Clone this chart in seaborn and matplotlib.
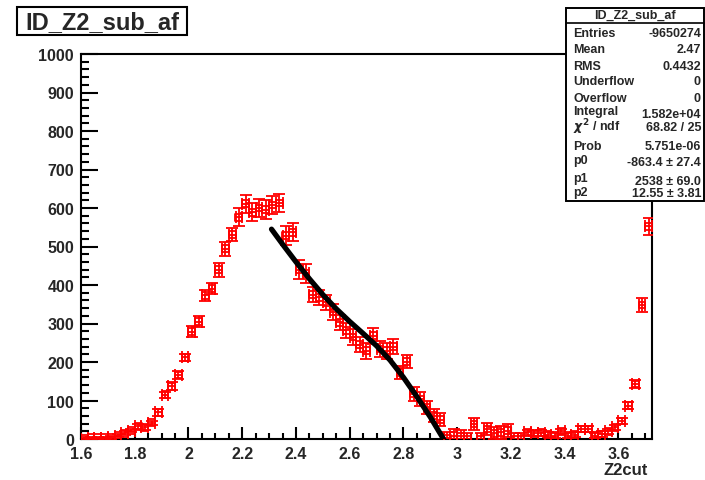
import numpy as np
import pandas as pd
import matplotlib
matplotlib.use("Agg")
import matplotlib.pyplot as plt
from matplotlib.ticker import MultipleLocator, FuncFormatter
from matplotlib.patches import Rectangle
import seaborn as sns

# ---------------- data ----------------
bin_width = 0.025
z2cut = np.round(1.6 + bin_width * (np.arange(85) + 0.5), 4)   # histogram bin centres

counts = [1, 3, 3, 3, 4, 9, 15, 22, 33, 30,
          42, 69, 115, 137, 166, 212, 279, 305, 373, 390,
          440, 494, 531, 576, 611, 589, 600, 596, 608, 613,
          528, 537, 440, 430, 375, 368, 355, 330, 303, 282,
          265, 245, 229, 268, 234, 229, 240, 172, 201, 117,
          104, 82, 61, 50, 2, 9, 8, 0, 39, 0,
          26, 15, 17, 22, 0, 0, 17, 15, 16, 11,
          9, 20, 9, 11, 26, 26, 9, 13, 20, 30,
          47, 87, 143, 348, 552]

errors = [3, 3, 3, 3, 3, 5, 5, 5, 6, 6,
          6, 8, 8, 10, 10, 10, 14, 14, 14, 14,
          18, 18, 18, 24, 24, 24, 24, 24, 24, 24,
          24, 24, 24, 24, 20, 20, 20, 20, 20, 20,
          20, 20, 20, 20, 20, 20, 20, 17, 17, 17,
          17, 17, 17, 17, 16, 16, 16, 16, 16, 16,
          16, 16, 16, 16, 16, 16, 7, 7, 7, 7,
          7, 7, 7, 7, 7, 7, 7, 7, 7, 7,
          7, 8, 10, 18, 22]

fit_x = [2.309, 2.35, 2.40, 2.45, 2.50, 2.55, 2.60, 2.65, 2.70, 2.75,
         2.80, 2.85, 2.90, 2.949, 2.96]
fit_y = [545, 506, 460, 416, 375, 338, 305, 274, 242, 205,
         160, 110, 57, 0, -13]

stats_labels = ["Entries", "Mean", "RMS", "Underflow", "Overflow", "Integral",
                r"$\chi^{2}$ / ndf", "Prob", "p0", "p1", "p2"]
stats_values = ["-9650274", "2.47", "0.4432", "0", "0", "1.582e+04",
                "68.82 / 25", "5.751e-06", "-863.4 ± 27.4", "2538 ± 69.0",
                "12.55 ± 3.81"]

hist = pd.DataFrame({"z2cut": z2cut, "counts": counts, "err": errors})
fit = pd.DataFrame({"x": fit_x, "y": fit_y})

# ---------------- figure ----------------
sns.set_theme(style="white")
plt.rcParams['font.family'] = ['Liberation Sans', 'DejaVu Sans']
plt.rcParams['font.weight'] = 'bold'

W, H = 705, 481
fig = plt.figure(figsize=(W / 100, H / 100), dpi=100)
L, R, T, B = 81, 652, 55, 440
ax = fig.add_axes([L / W, 1 - B / H, (R - L) / W, (B - T) / H])

red = (1.0, 0.0, 0.0)
ax.errorbar(hist["z2cut"], hist["counts"], yerr=hist["err"], xerr=bin_width / 2,
            fmt='none', ecolor=red, elinewidth=1.3, capsize=4.2, capthick=1.3, zorder=3)
sns.scatterplot(data=hist, x="z2cut", y="counts", ax=ax, marker='s', s=24,
                facecolor='none', edgecolor=red, linewidth=1.3, zorder=4, legend=False)
sns.lineplot(data=fit, x="x", y="y", ax=ax, color='black', linewidth=3.8,
             sort=False, zorder=5, legend=False)

ax.set_xlim(1.6, 3.725)
ax.set_ylim(0, 1000)
ax.set_xlabel("")
ax.set_ylabel("")

ax.xaxis.set_major_locator(MultipleLocator(0.2))
ax.xaxis.set_minor_locator(MultipleLocator(0.05))
ax.yaxis.set_major_locator(MultipleLocator(100))
ax.yaxis.set_minor_locator(MultipleLocator(20))
ax.xaxis.set_major_formatter(FuncFormatter(lambda v, p: f"{v:g}" if v <= 3.65 else ""))
ax.yaxis.set_major_formatter(FuncFormatter(lambda v, p: f"{v:g}"))

ax.tick_params(axis='x', which='major', direction='in', length=8.3, width=1.5,
               pad=5, labelsize=11.5, bottom=True, top=False, color='black')
ax.tick_params(axis='x', which='minor', direction='in', length=4.1, width=1.5,
               bottom=True, top=False, color='black')
ax.tick_params(axis='y', which='major', direction='in', length=12.2, width=1.5,
               pad=5, labelsize=11.5, left=True, right=False, color='black')
ax.tick_params(axis='y', which='minor', direction='in', length=6.1, width=1.5,
               left=True, right=False, color='black')
for lab in ax.get_xticklabels() + ax.get_yticklabels():
    lab.set_fontweight('bold')
for sp in ax.spines.values():
    sp.set_visible(True)
    sp.set_color('black')
    sp.set_linewidth(1.5)

# x-axis title
fig.text(648 / W, 1 - 471 / H, "Z2cut", ha='right', va='center',
         fontsize=12, fontweight='bold')

# title box
fig.patches.append(Rectangle((17 / W, 1 - 36 / H), 170 / W, 28 / H,
                             transform=fig.transFigure, facecolor='white',
                             edgecolor='black', linewidth=1.5, zorder=10))
fig.text(102 / W, 1 - 22.5 / H, "ID_Z2_sub_af", ha='center', va='center',
         fontsize=17, fontweight='bold', zorder=11)

# stats box
fig.patches.append(Rectangle((566 / W, 1 - 202 / H), 138 / W, 193 / H,
                             transform=fig.transFigure, facecolor='white',
                             edgecolor='black', linewidth=1.4, zorder=10))
fig.add_artist(plt.Line2D([566 / W, 704 / W], [1 - 24 / H, 1 - 24 / H],
                          transform=fig.transFigure, color='black', linewidth=1.2, zorder=11))
fig.text(635 / W, 1 - 16 / H, "ID_Z2_sub_af", ha='center', va='center',
         fontsize=9, fontweight='bold', zorder=11)
label_y = [34, 50, 67, 82, 99, 112, 127, 147, 161, 179, 193]
value_y = [34, 50, 67, 82, 99, 115, 128, 147, 163, 182, 194]
for lab, val, ly, vy in zip(stats_labels, stats_values, label_y, value_y):
    fig.text(573 / W, 1 - ly / H, lab, ha='left', va='center', fontsize=9,
             fontweight='bold', zorder=11)
    fig.text(701 / W, 1 - vy / H, val, ha='right', va='center', fontsize=9,
             fontweight='bold', zorder=11)

fig.savefig("out.png", dpi=100)
